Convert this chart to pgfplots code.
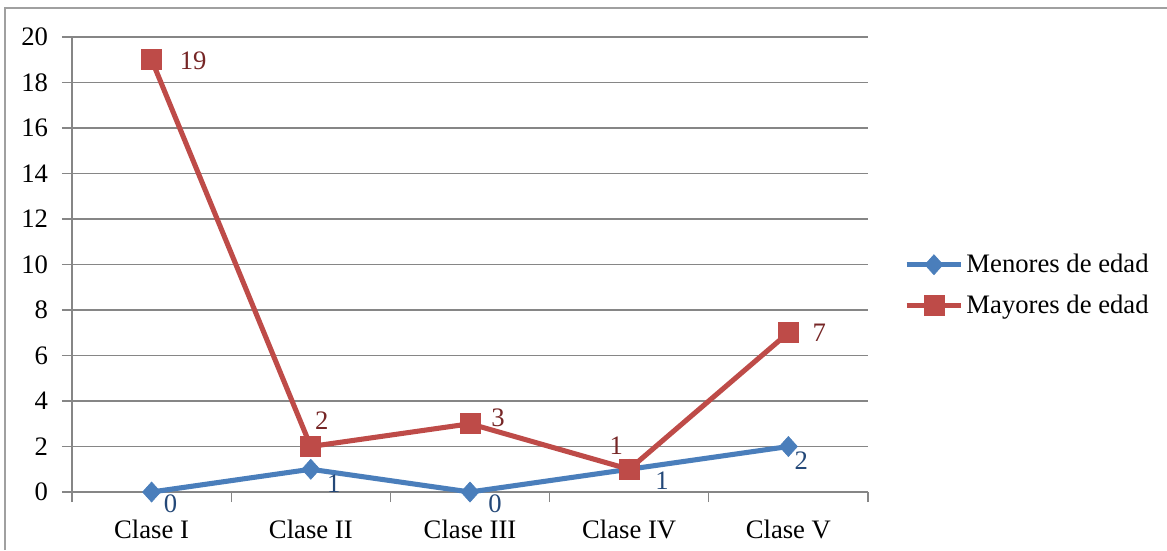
\documentclass[border=0pt]{standalone}
\usepackage{pgfplots}
\pgfplotsset{compat=1.18}
\usepackage{fontspec}
\setmainfont{Liberation Serif}
\definecolor{blueL}{RGB}{74,126,187}
\definecolor{redL}{RGB}{190,75,72}
\definecolor{blueT}{RGB}{36,72,120}
\definecolor{redT}{RGB}{118,38,38}
\definecolor{gridc}{RGB}{134,134,134}
\definecolor{framec}{RGB}{160,160,160}
\newcommand{\fz}{\fontsize{20}{24}\selectfont}

% data label: x, y, anchor, xshift(pt), yshift(pt), colour
\newcommand{\lbl}[6]{\addplot[forget plot, draw=none, mark=none, nodes near coords,
  point meta=explicit symbolic,
  every node near coord/.append style={font=\fz, inner sep=0pt, anchor=#3, xshift=#4pt, yshift=#5pt, text=#6}]
  coordinates {(#1,#2) [#2]};}

\begin{document}
\begin{tikzpicture}
\path[use as bounding box] (-54pt,-43.5pt) rectangle (821.25pt,369pt);
\draw[framec, line width=0.8pt] (-50.25pt,-43.5pt) -- (-50.25pt,363pt) -- (821.25pt,363pt);
\begin{axis}[
  at={(0,0)}, anchor=south west,
  scale only axis, width=597pt, height=341.25pt,
  xmin=-0.5, xmax=4.5, ymin=0, ymax=20,
  xtick={-0.5,0.5,1.5,2.5,3.5,4.5},
  xticklabels={,,,,,},
  extra x ticks={0,1,2,3,4},
  extra x tick labels={Clase I,Clase II,Clase III,Clase IV,Clase V},
  extra x tick style={major tick length=0pt, xticklabel style={inner sep=1pt, yshift=-20pt}},
  ytick={0,2,...,20},
  yticklabel style={xshift=-7pt},
  ymajorgrids,
  grid style={gridc, line width=0.9pt},
  axis x line*=bottom, axis y line*=left,
  axis line style={gridc, line width=0.9pt, -},
  tick align=outside, major tick length=7.5pt,
  tick style={gridc, line width=0.9pt},
  tick label style={font=\fz, black},
  /pgf/number format/assume math mode=true,
  clip=false,
  legend style={at={(1.045,0.455)}, anchor=west, draw=none, fill=none,
    font=\fz, row sep=11pt, inner sep=0pt,
    /tikz/every even column/.append style={column sep=0pt}},
  legend cell align=left,
  legend image code/.code={\draw[#1, mark repeat=2, mark phase=2] plot coordinates {(0pt,0pt) (20.5pt,0pt) (41pt,0pt)};},
]
\addplot[blueL, line width=3.8pt, mark=diamond*, mark size=7.5pt,
  mark options={fill=blueL, draw=blueL, line width=0.5pt, xscale=1.2}]
  coordinates {(0,0) (1,1) (2,0) (3,1) (4,2)};
\addlegendentry{Menores de edad}
\addplot[redL, line width=3.8pt, mark=square*, mark size=7.5pt,
  mark options={fill=redL, draw=redL, line width=0.5pt}]
  coordinates {(0,19) (1,2) (2,3) (3,1) (4,7)};
\addlegendentry{Mayores de edad}
\lbl{0}{0}{north west}{9}{-2}{blueT}
\lbl{1}{1}{north west}{12}{-3.75}{blueT}
\lbl{2}{0}{north west}{13.5}{-2}{blueT}
\lbl{3}{1}{north west}{19.5}{-1.5}{blueT}
\lbl{4}{2}{north west}{4.5}{-3.75}{blueT}
\lbl{0}{19}{west}{21}{-0.75}{redT}
\lbl{1}{2}{south west}{3}{12.75}{redT}
\lbl{2}{3}{west}{15.75}{4.5}{redT}
\lbl{3}{1}{south east}{-4.5}{10.5}{redT}
\lbl{4}{7}{west}{18}{0}{redT}
\end{axis}
\end{tikzpicture}
\end{document}
